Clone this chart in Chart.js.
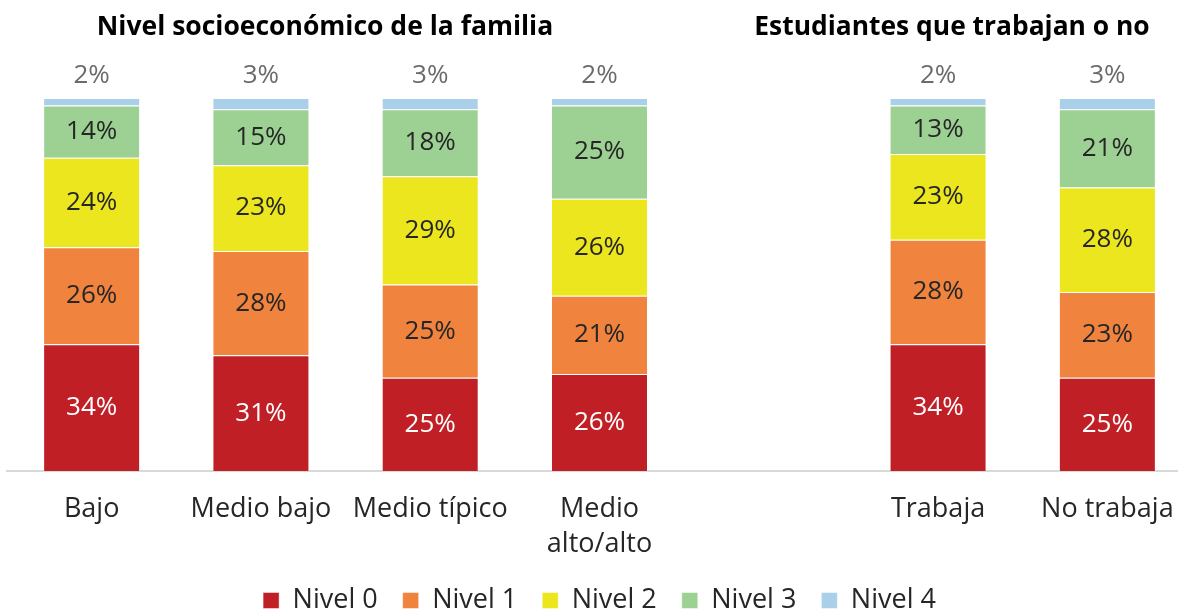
<!DOCTYPE html>
<html>
<head>
<meta charset="utf-8">
<script src="https://cdn.jsdelivr.net/npm/chart.js@4.4.1/dist/chart.umd.min.js"></script>
<style>
    html, body { margin: 0; padding: 0; background: #fff; overflow: hidden; }
    #wrap { width: 1200px; height: 624px; }
</style>
</head>
<body>
<div id="wrap"><canvas id="myChart"></canvas></div>
<script>
// categories (the empty one is the gap between the two groups)
let categories = ['Bajo', 'Medio bajo', 'Medio típico', ['Medio', 'alto/alto'], '', 'Trabaja', 'No trabaja'];
let seriesNames = ['Nivel 0', 'Nivel 1', 'Nivel 2', 'Nivel 3', 'Nivel 4'];

let nivel0 = [34, 31, 25, 26, null, 34, 25];
let nivel1 = [26, 28, 25, 21, null, 28, 23];
let nivel2 = [24, 23, 29, 26, null, 23, 28];
let nivel3 = [14, 15, 18, 25, null, 13, 21];
let nivel4 = [2, 3, 3, 2, null, 2, 3];

let groupTitles = ['Nivel socioeconómico de la familia', 'Estudiantes que trabajan o no'];

let colors = ['#C01F26', '#F0833D', '#ECE61E', '#9DD193', '#AACFE8'];
let labelColors = ['#ffffff', '#262626', '#262626', '#262626', '#6b6b6b'];

const font = "'Open Sans', sans-serif";

// percent labels on/above each segment
const valueLabels = {
    id: 'valueLabels',
    afterDatasetsDraw(chart) {
        const ctx = chart.ctx;
        ctx.save();
        ctx.font = '26px ' + font;
        ctx.textAlign = 'center';
        ctx.textBaseline = 'middle';
        chart.data.datasets.forEach((ds, di) => {
            const meta = chart.getDatasetMeta(di);
            meta.data.forEach((bar, i) => {
                const v = ds.data[i];
                if (v == null) return;
                ctx.fillStyle = labelColors[di];
                if (di === 4) {
                    ctx.fillText(v + '%', bar.x, bar.y - 22);
                } else {
                    ctx.fillText(v + '%', bar.x, (bar.y + bar.base) / 2);
                }
            });
        });
        ctx.restore();
    }
};

// the two group titles
const groupTitlePlugin = {
    id: 'groupTitles',
    afterDraw(chart) {
        const ctx = chart.ctx;
        ctx.save();
        ctx.fillStyle = '#000';
        ctx.textAlign = 'center';
        ctx.textBaseline = 'middle';
        const spots = [[325, 456], [952, 395]];
        groupTitles.forEach((t, i) => {
            ctx.font = 'bold 22px ' + font;
            let w = ctx.measureText(t).width;
            let size = 22 * spots[i][1] / w;
            ctx.font = 'bold ' + size.toFixed(1) + 'px ' + font;
            ctx.fillText(t, spots[i][0], 27);
        });
        ctx.restore();
    }
};

let allSeries = [nivel0, nivel1, nivel2, nivel3, nivel4];

let chart = new Chart(document.getElementById('myChart'), {
    type: 'bar',
    data: {
        labels: categories,
        datasets: allSeries.map((d, i) => ({
            label: seriesNames[i],
            data: d,
            backgroundColor: colors[i],
            borderColor: 'rgba(255,255,255,0.45)',
            borderWidth: 1,
            categoryPercentage: 1,
            barPercentage: 0.573
        }))
    },
    options: {
        responsive: true,
        maintainAspectRatio: false,
        animation: false,
        layout: {
            padding: { top: 98, left: 7, right: 8, bottom: 0 }
        },
        scales: {
            x: {
                stacked: true,
                grid: { display: false },
                border: { display: true, color: '#d9d9d9', width: 2 },
                ticks: {
                    color: '#262626',
                    font: { family: font, size: 27, lineHeight: 1.3 },
                    padding: 13,
                    maxRotation: 0,
                    autoSkip: false
                },
                afterFit(scale) {
                    scale.height = 91;
                }
            },
            y: {
                stacked: true,
                display: false,
                min: 0,
                max: 100
            }
        },
        plugins: {
            legend: {
                position: 'bottom',
                labels: {
                    color: '#262626',
                    font: { family: font, size: 27 },
                    boxWidth: 16,
                    boxHeight: 16,
                    padding: 25
                }
            },
            tooltip: { enabled: false }
        }
    },
    plugins: [valueLabels, groupTitlePlugin]
});
</script>
</body>
</html>
